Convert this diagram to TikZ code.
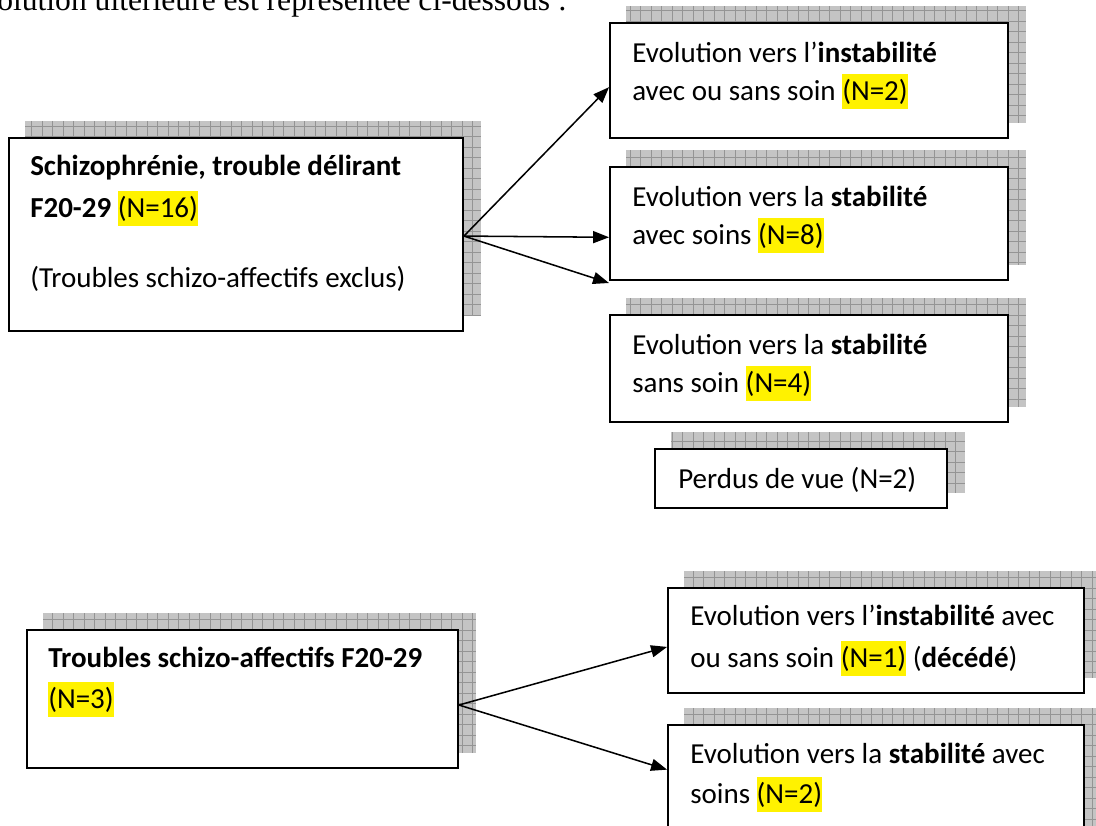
\documentclass[tikz,border=0pt]{standalone}
\usepackage{fontspec}
\setmainfont{Carlito}
\newfontfamily\timesfont{Liberation Serif}
\usetikzlibrary{arrows.meta,calc,backgrounds}
\newcommand\hlN[1]{{\setlength{\fboxsep}{0pt}\colorbox{yellow}{\rule[-0.31em]{0pt}{1.21em}#1}}}
\tikzset{
  box/.style={draw=black, line width=1.4pt, fill=white, inner sep=0pt, rectangle},
  txt/.style={anchor=base west, inner sep=0pt, font=\fontsize{21.75pt}{28pt}\selectfont},
  arr/.style={line width=1.15pt, -{Triangle[length=12pt,width=9pt]}},
  shadowfill/.style={fill=black!23},
  gridline/.style={draw=black!42, line width=0.6pt},
}
\newcommand\shadowfor[1]{%
  \begin{scope}
    \clip ([shift={(17,-16)}]#1.south west) rectangle ([shift={(17,-16)}]#1.north east);
    \fill[shadowfill] ([shift={(17,-16)}]#1.south west) rectangle ([shift={(17,-16)}]#1.north east);
    \draw[gridline, step=7.875pt] (#1.south west) grid ([shift={(40,-40)}]#1.north east);
  \end{scope}}
\begin{document}
\begin{tikzpicture}[x=0.75pt, y=-0.75pt]
\useasboundingbox (0,0) rectangle (1096,825);
\clip (0,0) rectangle (1096,825);

% intro sentence (cut at the top)
\node[anchor=base west, inner sep=0pt, font=\timesfont\fontsize{23.7pt}{28pt}\selectfont] (intro) at (-3,10) {olution ultérieure est représentée ci-dessous :};

% boxes
\node[box, minimum width=340.5pt, minimum height=144.75pt] (A) at (236,234.5) {};
\node[box, minimum width=298.5pt, minimum height=86.25pt] (B1) at (809,80.5) {};
\node[box, minimum width=298.5pt, minimum height=84.75pt] (B2) at (809,223.5) {};
\node[box, minimum width=298.5pt, minimum height=80.25pt] (B3) at (809,368.5) {};
\node[box, minimum width=219pt, minimum height=44.25pt] (P) at (801,478.5) {};
\node[box, minimum width=323.25pt, minimum height=103.5pt] (C) at (242.5,699) {};
\node[box, minimum width=312pt, minimum height=78.75pt] (D1) at (876,640.5) {};
\node[box, minimum width=312pt, minimum height=101.25pt] (D2) at (876,792.5) {};

\begin{pgfonlayer}{background}
\shadowfor{A}\shadowfor{B1}\shadowfor{B2}\shadowfor{B3}\shadowfor{P}
\shadowfor{C}\shadowfor{D1}\shadowfor{D2}
\end{pgfonlayer}

% texts
\node[txt] (A1) at (30,175) {\bfseries Schizophrénie, trouble délirant};
\node[txt] (A2) at (30,217) {\textbf{F20-29} \hlN{(N=16)}};
\node[txt] (A3) at (30,287) {(Troubles schizo-affectifs exclus)};

\node[txt] (B1a) at (632,62) {Evolution vers l’\textbf{instabilité}};
\node[txt] (B1b) at (632,100) {avec ou sans soin \hlN{(N=2)}};
\node[txt] (B2a) at (632,206) {Evolution vers la \textbf{stabilité}};
\node[txt] (B2b) at (632,244) {avec soins \hlN{(N=8)}};
\node[txt] (B3a) at (632,354) {Evolution vers la \textbf{stabilité}};
\node[txt] (B3b) at (632,392) {sans soin \hlN{(N=4)}};
\node[txt] (Pt) at (678,488) {Perdus de vue (N=2)};

\node[txt] (C1) at (48,667) {\bfseries Troubles schizo-affectifs F20-29};
\node[txt] (C2) at (48,708) {\hlN{(N=3)}};

\node[txt] (D1a) at (690,625) {Evolution vers l’\textbf{instabilité} avec};
\node[txt] (D1b) at (690,667) {ou sans soin \hlN{(N=1)} (\textbf{décédé})};
\node[txt] (D2a) at (690,763) {Evolution vers la \textbf{stabilité} avec};
\node[txt] (D2b) at (690,803) {soins \hlN{(N=2)}};

% connectors
\coordinate (Aout) at ($(A.north east)!0.508!(A.south east)$);
\coordinate (B3in) at (609,283);
\draw[arr] (Aout) -- ($(B1.north west)!0.557!(B1.south west)$);
\draw[arr] (Aout) -- ($(B2.north west)!0.62!(B2.south west)$);
\draw[arr] (Aout) -- (B3in);
\coordinate (Cout) at ($(C.north east)!0.543!(C.south east)$);
\draw[arr] (Cout) -- ($(D1.north west)!0.56!(D1.south west)$);
\draw[arr] (Cout) -- ($(D2.north west)!0.333!(D2.south west)$);
\end{tikzpicture}
\end{document}
